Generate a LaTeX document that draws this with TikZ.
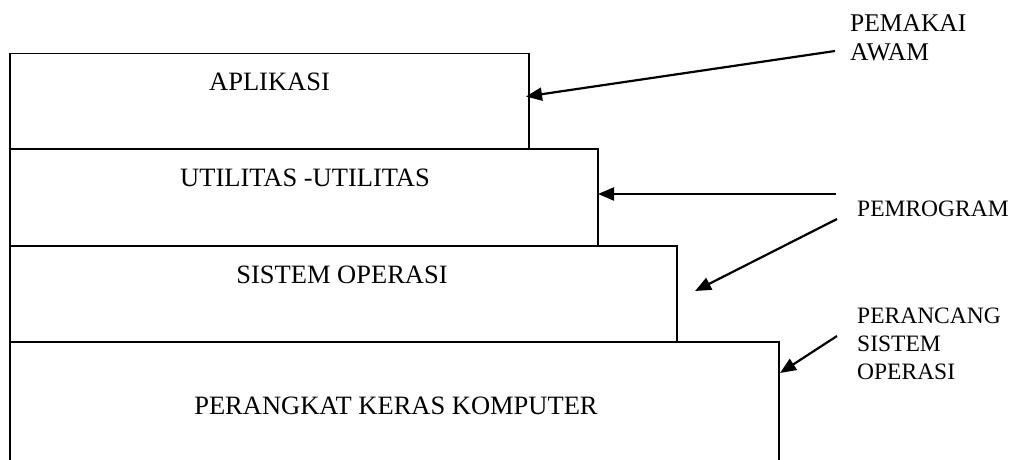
\documentclass[tikz,border=0pt]{standalone}
\usepackage{fontspec}
\setmainfont{Liberation Serif}
\usetikzlibrary{arrows.meta}
\begin{document}
\begin{tikzpicture}[x=1pt,y=-1pt,
  layer/.style={draw=black,line width=1.8pt},
  lbl/.style={font=\fontsize{26.5}{30}\selectfont,inner sep=0pt,anchor=base},
  side/.style={font=\fontsize{23.5}{27.8}\selectfont,inner sep=0pt,align=left,anchor=west},
  sidebig/.style={font=\fontsize{25.5}{29.5}\selectfont,inner sep=0pt,align=left,anchor=west},
  pointer/.style={line width=2.2pt,-{Triangle[length=16pt,width=13pt]}}]
\useasboundingbox (0,0) rectangle (1014,459);
\begin{scope}
\clip (0,0) rectangle (1014,459);
\draw[layer] (10,470) -- (10,342) -- (779,342) -- (779,470);
\draw[layer] (10,342) -- (10,246) -- (677,246) -- (677,342);
\draw[layer] (10,246) -- (10,149) -- (598,149) -- (598,246);
\draw[layer] (10,149) -- (10,53.5) -- (529,53.5) -- (529,149);
\end{scope}
\node[lbl] (apl) at (269.5,90) {APLIKASI};
\node[lbl] (utl) at (305,186) {UTILITAS -UTILITAS};
\node[lbl] (os) at (342,283.5) {SISTEM OPERASI};
\node[lbl] (hw) at (396,414) {PERANGKAT KERAS KOMPUTER};
\node[sidebig] (awam) at (850,38) {PEMAKAI\\AWAM};
\node[side] (prog) at (857,209) {PEMROGRAM};
\node[side] (osd) at (857,344) {PERANCANG\\SISTEM\\OPERASI};
\coordinate (a1s) at (835,51);
\coordinate (a1e) at (526,96.5);
\coordinate (a2s) at (836,194);
\coordinate (a2e) at (598,194);
\coordinate (a3s) at (837,219);
\coordinate (a3e) at (695,291);
\coordinate (a4s) at (837,336);
\coordinate (a4e) at (780,373);
\draw[pointer] (a1s) -- (a1e);
\draw[pointer] (a2s) -- (a2e);
\draw[pointer] (a3s) -- (a3e);
\draw[pointer] (a4s) -- (a4e);
\end{tikzpicture}
\end{document}
